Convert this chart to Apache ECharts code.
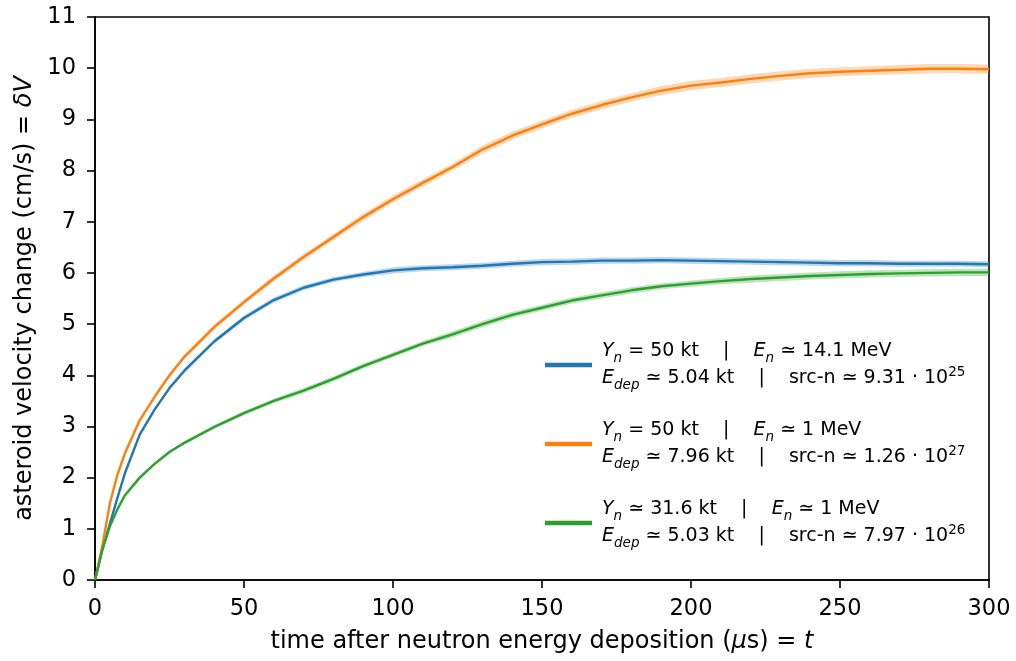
<!DOCTYPE html>
<html>
<head>
<meta charset="utf-8">
<script src="https://cdn.jsdelivr.net/npm/echarts@6/dist/echarts.min.js"></script>
<style>
html,body{margin:0;padding:0;background:#fff;}
#chart{width:1016px;height:661px;}
</style>
</head>
<body>
<div id="chart"></div>
<script>
// time grid (μs)
const tValues = [0, 2.5, 5, 7.5, 10, 15, 20, 25, 30, 40, 50, 60, 70, 80, 90, 100, 110, 120, 130, 140, 150, 160, 170, 180, 190, 200, 210, 220, 230, 240, 250, 260, 270, 280, 290, 300];

// δV (cm/s)
const blueValues = [0, 0.6, 1.1, 1.6, 2.08, 2.84, 3.33, 3.75, 4.09, 4.66, 5.12, 5.47, 5.71, 5.87, 5.97, 6.05, 6.09, 6.11, 6.14, 6.18, 6.21, 6.22, 6.24, 6.24, 6.25, 6.24, 6.23, 6.22, 6.21, 6.20, 6.19, 6.19, 6.18, 6.18, 6.18, 6.17];
const orangeValues = [0, 0.68, 1.5, 2.05, 2.47, 3.12, 3.58, 4.0, 4.36, 4.94, 5.43, 5.89, 6.31, 6.7, 7.09, 7.44, 7.76, 8.07, 8.41, 8.68, 8.9, 9.11, 9.28, 9.43, 9.56, 9.66, 9.72, 9.79, 9.85, 9.9, 9.93, 9.95, 9.97, 9.99, 9.99, 9.98];
const greenValues = [0, 0.6, 1.05, 1.38, 1.65, 2.0, 2.27, 2.5, 2.68, 2.99, 3.26, 3.5, 3.7, 3.93, 4.18, 4.4, 4.62, 4.8, 5.0, 5.18, 5.32, 5.46, 5.56, 5.66, 5.74, 5.79, 5.84, 5.88, 5.91, 5.94, 5.96, 5.98, 5.99, 6.0, 6.01, 6.01];

// half-width of shaded uncertainty bands
const blueErr = [0, 0.01, 0.02, 0.02, 0.03, 0.03, 0.03, 0.04, 0.04, 0.04, 0.05, 0.05, 0.05, 0.05, 0.05, 0.06, 0.06, 0.06, 0.06, 0.06, 0.06, 0.06, 0.06, 0.06, 0.06, 0.06, 0.06, 0.06, 0.06, 0.06, 0.06, 0.06, 0.06, 0.06, 0.06, 0.06];
const orangeErr = [0, 0.01, 0.02, 0.02, 0.03, 0.03, 0.03, 0.04, 0.04, 0.05, 0.05, 0.06, 0.06, 0.06, 0.07, 0.07, 0.07, 0.07, 0.08, 0.08, 0.08, 0.08, 0.08, 0.08, 0.09, 0.09, 0.09, 0.09, 0.09, 0.09, 0.09, 0.09, 0.09, 0.09, 0.09, 0.09];
const greenErr = [0, 0.01, 0.02, 0.02, 0.02, 0.03, 0.03, 0.03, 0.03, 0.04, 0.04, 0.04, 0.05, 0.05, 0.05, 0.05, 0.05, 0.06, 0.06, 0.06, 0.06, 0.06, 0.06, 0.06, 0.06, 0.06, 0.06, 0.07, 0.07, 0.07, 0.07, 0.07, 0.07, 0.07, 0.07, 0.07];

const xTicks = [0, 50, 100, 150, 200, 250, 300];
const yTicks = [0, 1, 2, 3, 4, 5, 6, 7, 8, 9, 10, 11];

const seriesNames = ['blue', 'orange', 'green'];
const seriesColors = ['#1f77b4', '#ff7f0e', '#2ca02c'];
const bandColors = ['rgba(31,119,180,0.3)', 'rgba(255,127,14,0.3)', 'rgba(44,160,44,0.3)'];
const SEP = '    |    ';
const legendLabels = [
  '{i|Y}{sub|n}{r| = 50 kt' + SEP + '}{i|E}{sub|n}{r| ≃ 14.1 MeV}\n{i|E}{sub|dep}{r| ≃ 5.04 kt' + SEP + 'src-n ≃ 9.31 · 10}{sup|25}',
  '{i|Y}{sub|n}{r| = 50 kt' + SEP + '}{i|E}{sub|n}{r| ≃ 1 MeV}\n{i|E}{sub|dep}{r| ≃ 7.96 kt' + SEP + 'src-n ≃ 1.26 · 10}{sup|27}',
  '{i|Y}{sub|n}{r| ≃ 31.6 kt' + SEP + '}{i|E}{sub|n}{r| ≃ 1 MeV}\n{i|E}{sub|dep}{r| ≃ 5.03 kt' + SEP + 'src-n ≃ 7.97 · 10}{sup|26}'
];

const valueSets = [blueValues, orangeValues, greenValues];
const errSets = [blueErr, orangeErr, greenErr];

const FONT = 'DejaVu Sans';

function pairs(vals) { return tValues.map((t, i) => [t, vals[i]]); }

function bandSeries(k) {
  const vals = valueSets[k], err = errSets[k];
  return {
    type: 'custom',
    name: seriesNames[k] + '-band',
    silent: true,
    z: 1,
    data: [[0, 0]],
    renderItem: function (params, api) {
      const pts = [];
      for (let i = 0; i < tValues.length; i++) pts.push(api.coord([tValues[i], vals[i] + err[i]]));
      for (let i = tValues.length - 1; i >= 0; i--) pts.push(api.coord([tValues[i], vals[i] - err[i]]));
      return { type: 'polygon', shape: { points: pts }, style: { fill: bandColors[k] } };
    }
  };
}

function lineSeries(k) {
  return {
    type: 'line',
    name: seriesNames[k],
    data: pairs(valueSets[k]),
    showSymbol: false,
    symbol: 'none',
    smooth: false,
    z: 3,
    lineStyle: { color: seriesColors[k], width: 2.4 },
    itemStyle: { color: seriesColors[k] }
  };
}

const chart = echarts.init(document.getElementById('chart'), null, { renderer: 'canvas' });

const nameStyle = {
  fontFamily: FONT, fontSize: 24, color: '#000',
  rich: { i: { fontFamily: FONT, fontSize: 24, fontStyle: 'italic', color: '#000' } }
};

const option = {
  animation: false,
  backgroundColor: '#fff',
  textStyle: { fontFamily: FONT },
  grid: { left: 95, right: 27, top: 17, bottom: 81, show: true, borderColor: '#000', borderWidth: 1.6, backgroundColor: 'transparent' },
  xAxis: {
    type: 'value', min: 0, max: 300, interval: 50,
    name: 'time after neutron energy deposition ({i|μ}s) = {i|t}',
    nameLocation: 'middle', nameGap: 50,
    nameTextStyle: nameStyle,
    axisLine: { show: true, onZero: false, lineStyle: { color: '#000', width: 1.6 } },
    axisTick: { show: true, inside: false, length: 8, lineStyle: { color: '#000', width: 1.6 } },
    axisLabel: { fontFamily: FONT, fontSize: 22.5, color: '#000', margin: 18, formatter: v => xTicks.includes(v) ? String(v) : '' },
    splitLine: { show: false }
  },
  yAxis: {
    type: 'value', min: 0, max: 11, interval: 1,
    name: 'asteroid velocity change (cm/s) = {i|δV}',
    nameLocation: 'middle', nameGap: 55, nameRotate: 90,
    nameTextStyle: nameStyle,
    axisLine: { show: true, onZero: false, lineStyle: { color: '#000', width: 1.6 } },
    axisTick: { show: true, inside: false, length: 8, lineStyle: { color: '#000', width: 1.6 } },
    axisLabel: { fontFamily: FONT, fontSize: 22.5, color: '#000', margin: 19, formatter: v => yTicks.includes(v) ? String(v) : '' },
    splitLine: { show: false }
  },
  legend: {
    orient: 'vertical',
    left: 540, top: 337,
    data: seriesNames,
    icon: 'rect',
    itemWidth: 47, itemHeight: 4.5,
    itemGap: 29,
    selectedMode: false,
    formatter: function (name) { return legendLabels[seriesNames.indexOf(name)]; },
    textStyle: {
      fontFamily: FONT, fontSize: 19, color: '#000', padding: [0, 0, 0, 5],
      rich: {
        r: { fontFamily: FONT, fontSize: 19, color: '#000', lineHeight: 27 },
        i: { fontFamily: FONT, fontSize: 19, fontStyle: 'italic', color: '#000', lineHeight: 27 },
        sub: { fontFamily: FONT, fontSize: 13.5, fontStyle: 'italic', color: '#000', lineHeight: 18, verticalAlign: 'bottom' },
        sup: { fontFamily: FONT, fontSize: 13.5, color: '#000', lineHeight: 15, verticalAlign: 'top' }
      }
    }
  },
  series: [
    bandSeries(0), bandSeries(1), bandSeries(2),
    lineSeries(0), lineSeries(1), lineSeries(2)
  ]
};

chart.setOption(option);
</script>
</body>
</html>
